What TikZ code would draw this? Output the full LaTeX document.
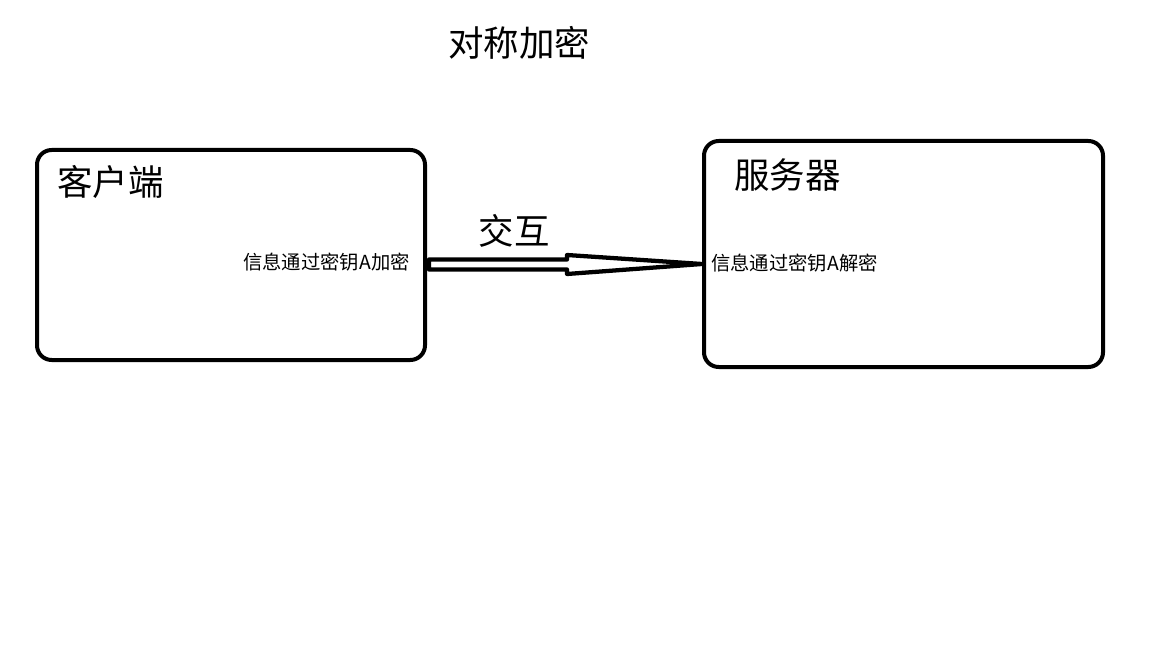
\documentclass[tikz,border=0pt]{standalone}
\usepackage{fontspec}
\setmainfont{Noto Sans CJK SC}
\usetikzlibrary{positioning}
\tikzset{
    box/.style={draw, line width=3pt, rounded corners=11pt, inner sep=0pt},
    bigtext/.style={inner sep=0pt, font=\fontsize{26.6}{30}\selectfont},
    smalltext/.style={inner sep=0pt, font=\fontsize{14.5}{17}\selectfont},
    hollow/.style={draw, line width=3.2pt, line join=round, fill=white}
}

\begin{document}
\begin{tikzpicture}[x=0.75pt, y=-0.75pt]
            \useasboundingbox (0,0) rectangle (1152,648);

            % Title
            \node[bigtext] (title) at (519,43) {对称加密};

            % Boxes
            \node[box, minimum width=291pt, minimum height=157.5pt] (client) at (231,255) {};
            \node[box, minimum width=299.25pt, minimum height=169.5pt] (server) at (903.5,254) {};
            \node[bigtext, anchor=west] (clientname) at (57,182) {客户端};
            \node[bigtext, anchor=west] (servername) at (734,175) {服务器};

            % Messages
            \node[smalltext, anchor=east] (encrypt) at (410,262) {信息通过密钥A加密};
            \node[smalltext, anchor=west] (decrypt) at (711,263) {信息通过密钥A解密};

            % Hollow arrow between the boxes
            \coordinate (tip) at (server.west |- 0,264);
            \draw[hollow] (tip) -- ++(-135,-9) -- ++(0,4.5) -- ++(-138,0) -- ++(0,10)
                -- ++(138,0) -- ++(0,4.5) -- cycle;
            \node[bigtext] (exchange) at (514,231) {交互};
        \end{tikzpicture}
\end{document}
